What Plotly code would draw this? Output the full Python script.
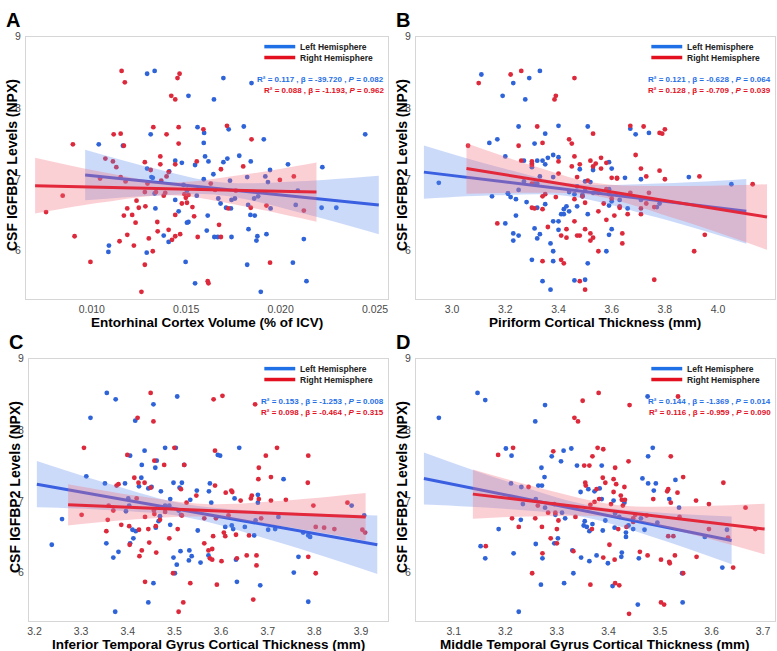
import plotly.graph_objects as go

# ---------------- DATA ----------------
# Panel A: Entorhinal Cortex Volume (% of ICV)
a_left_x = [0.01293, 0.01333, 0.01697, 0.01846, 0.01512, 0.01647, 0.02448, 0.01037, 0.01165, 0.01312,
            0.01560, 0.01595, 0.01593, 0.01725, 0.01805, 0.01911, 0.01600, 0.01618, 0.01697, 0.01718,
            0.01781, 0.01842, 0.01477, 0.01442, 0.01293, 0.01323, 0.01410, 0.01547, 0.01644, 0.01593,
            0.01732, 0.01823, 0.01944, 0.01919, 0.01933, 0.02039, 0.02221, 0.02091, 0.02080, 0.02217,
            0.02295, 0.01947, 0.01828, 0.01840, 0.01863, 0.01881, 0.01860, 0.01758, 0.01740, 0.01670,
            0.01682, 0.01737, 0.01711, 0.01614, 0.01556, 0.01504, 0.01486, 0.01442, 0.01460, 0.01504,
            0.01512, 0.01381, 0.01407, 0.01333, 0.01337, 0.01649, 0.01667, 0.01740, 0.01609, 0.01830,
            0.01877, 0.01872, 0.01925, 0.02123, 0.01091, 0.01088, 0.01291, 0.01497, 0.01823, 0.02065,
            0.01547, 0.02137, 0.01895, 0.01316, 0.01505]
a_left_y = [8.48, 8.52, 8.42, 8.35, 8.17, 8.12, 7.63, 7.49, 7.47, 7.63,
            7.73, 7.65, 7.51, 7.70, 7.74, 7.56, 7.32, 7.25, 7.24, 7.29,
            7.33, 7.25, 7.23, 7.26, 7.15, 7.02, 7.11, 7.20, 7.07, 7.00,
            6.98, 7.03, 7.13, 7.04, 6.96, 7.21, 7.17, 6.84, 6.64, 6.60,
            6.60, 6.59, 6.64, 6.50, 6.49, 6.76, 6.73, 6.73, 6.71, 6.73,
            6.66, 6.59, 6.60, 6.49, 6.77, 6.84, 6.92, 6.71, 6.55, 6.39,
            6.40, 6.21, 6.12, 6.80, 6.59, 6.19, 6.19, 6.19, 6.28, 6.30,
            6.20, 6.14, 6.23, 6.16, 6.07, 5.98, 5.97, 5.84, 5.80, 5.83,
            5.54, 5.57, 5.42, 7.03, 6.85]
a_right_x = [0.00758, 0.00846, 0.00900, 0.00909, 0.00993, 0.01044, 0.01072, 0.01112, 0.01116, 0.01153,
             0.01158, 0.01175, 0.01130, 0.01170, 0.01153, 0.01179, 0.01188, 0.01170, 0.01147, 0.01188,
             0.01214, 0.01232, 0.01223, 0.01237, 0.01249, 0.01281, 0.01284, 0.01281, 0.01312, 0.01295,
             0.01302, 0.01323, 0.01281, 0.01263, 0.01326, 0.01340, 0.01347, 0.01349, 0.01363, 0.01363,
             0.01368, 0.01381, 0.01389, 0.01396, 0.01396, 0.01407, 0.01407, 0.01425, 0.01442, 0.01421,
             0.01442, 0.01454, 0.01465, 0.01460, 0.01460, 0.01442, 0.01442, 0.01468, 0.01477, 0.01491,
             0.01498, 0.01504, 0.01512, 0.01533, 0.01542, 0.01556, 0.01561, 0.01591, 0.01614, 0.01618,
             0.01630, 0.01653, 0.01674, 0.01684, 0.01684, 0.01716, 0.01723, 0.01802, 0.01846, 0.01842,
             0.01925, 0.01944, 0.01996, 0.02070, 0.02123, 0.01763]
a_right_y = [6.54, 6.77, 7.49, 6.20, 5.84, 7.01, 7.29, 7.25, 7.63, 7.64,
             8.52, 8.36, 7.17, 7.47, 7.03, 6.97, 6.59, 6.49, 6.13, 6.22,
             6.50, 6.39, 6.07, 6.70, 6.60, 6.82, 6.62, 7.24, 7.13, 6.94,
             6.17, 5.99, 5.80, 5.42, 7.73, 6.82, 6.40, 6.27, 7.32, 7.21,
             6.98, 6.77, 6.81, 7.63, 7.04, 7.10, 6.29, 6.15, 7.21, 8.17,
             8.12, 8.42, 8.48, 7.50, 7.73, 6.50, 6.20, 6.23, 6.66, 6.79,
             6.74, 6.67, 6.78, 6.61, 6.48, 7.25, 6.19, 7.70, 5.57, 5.54,
             6.94, 6.85, 6.36, 6.19, 7.14, 7.75, 6.59, 7.18, 7.56, 6.60,
             6.63, 5.83, 6.99, 7.04, 6.56, 6.84]

# Panel B: Piriform Cortical Thickness (mm)
b_left_x = [2.95, 3.11, 3.23, 3.29, 3.33, 3.19, 3.275, 3.14, 3.17, 3.25,
            3.20, 3.21, 3.15, 3.21, 3.22, 3.24, 3.25, 3.27, 3.28, 3.24,
            3.23, 3.23, 3.25, 3.20, 3.27, 3.30, 3.30, 3.31, 3.32, 3.33,
            3.31, 3.32, 3.34, 3.35, 3.35, 3.36, 3.38, 3.38, 3.40, 3.40,
            3.32, 3.33, 3.32, 3.30, 3.31, 3.35, 3.37, 3.38, 3.38, 3.38,
            3.40, 3.40, 3.41, 3.42, 3.42, 3.43, 3.44, 3.44, 3.46, 3.47,
            3.47, 3.48, 3.49, 3.49, 3.50, 3.51, 3.51, 3.50, 3.52, 3.53,
            3.46, 3.50, 3.34, 3.37, 3.51, 3.53, 3.54, 3.58, 3.59, 3.59,
            3.59, 3.60, 3.60, 3.59, 3.60, 3.63, 3.65, 3.66, 3.67, 3.69,
            3.71, 3.71, 3.74, 3.77, 3.78, 3.89, 4.05]
b_left_y = [6.95, 8.47, 8.35, 8.42, 8.52, 8.17, 8.12, 7.51, 7.56, 7.74,
            7.32, 6.80, 6.76, 6.80, 6.75, 6.72, 6.85, 6.97, 6.68, 6.49,
            6.24, 6.14, 6.21, 6.38, 7.26, 7.22, 7.17, 7.50, 7.26, 7.04,
            6.94, 6.94, 7.26, 7.21, 7.64, 7.30, 7.03, 7.34, 7.75, 7.31,
            6.60, 6.23, 6.17, 5.87, 6.31, 6.65, 6.10, 5.99, 6.41, 5.85,
            6.41, 6.29, 6.51, 6.51, 6.58, 6.62, 6.55, 6.82, 6.79, 6.90,
            6.62, 7.14, 6.78, 6.76, 6.84, 7.74, 5.82, 6.97, 6.96, 7.13,
            5.58, 5.59, 5.57, 5.45, 6.51, 6.81, 6.82, 5.99, 6.86, 6.63,
            6.22, 6.30, 7.15, 7.24, 6.69, 6.71, 7.02, 6.59, 7.71, 7.63,
            7.00, 6.71, 7.65, 6.61, 6.66, 7.03, 6.93]
b_right_x = [3.06, 3.10, 3.22, 3.26, 3.46, 3.385, 3.39, 3.17, 3.25, 3.26,
             3.32, 3.34, 3.30, 3.30, 3.30, 3.30, 3.31, 3.34, 3.34, 3.35,
             3.34, 3.36, 3.40, 3.39, 3.40, 3.41, 3.41, 3.42, 3.43, 3.43,
             3.44, 3.45, 3.45, 3.46, 3.46, 3.46, 3.47, 3.47, 3.48, 3.48,
             3.48, 3.49, 3.50, 3.50, 3.50, 3.51, 3.52, 3.52, 3.52, 3.53,
             3.53, 3.54, 3.53, 3.55, 3.55, 3.55, 3.56, 3.56, 3.57, 3.58,
             3.58, 3.58, 3.59, 3.60, 3.60, 3.61, 3.62, 3.62, 3.63, 3.63,
             3.64, 3.64, 3.66, 3.67, 3.67, 3.69, 3.71, 3.71, 3.71, 3.72,
             3.73, 3.73, 3.74, 3.76, 3.78, 3.78, 3.79, 3.80, 3.80, 3.76,
             3.93, 3.91, 3.95, 4.13]
b_right_y = [7.47, 8.35, 8.47, 8.52, 8.42, 8.12, 8.17, 6.38, 7.47, 7.26,
             7.74, 7.51, 7.25, 7.20, 6.94, 6.60, 6.59, 6.58, 6.76, 6.79,
             5.85, 6.33, 7.25, 6.75, 7.08, 6.21, 5.87, 5.82, 6.30, 6.18,
             7.56, 7.50, 7.18, 7.32, 6.72, 6.41, 6.21, 7.03, 7.21, 6.21,
             5.57, 6.76, 6.30, 6.67, 5.45, 6.98, 7.26, 6.24, 6.14, 7.64,
             7.18, 7.22, 6.18, 6.55, 5.99, 6.81, 7.30, 7.15, 6.66, 7.23,
             6.43, 6.86, 6.79, 6.73, 7.02, 6.49, 7.01, 7.02, 6.62, 6.60,
             6.24, 6.10, 6.51, 6.81, 7.75, 7.34, 6.59, 7.15, 6.51, 7.74,
             7.04, 6.66, 6.81, 6.61, 7.12, 7.65, 7.64, 7.70, 7.00, 5.59,
             7.04, 5.99, 6.22, 6.93]

# Panel C: Inferior Temporal Gyrus Cortical Thickness (mm)
c_left_x = [3.237, 3.259, 3.311, 3.320, 3.355, 3.374, 3.351, 3.354, 3.369, 3.373,
            3.380, 3.394, 3.396, 3.401, 3.403, 3.405, 3.405, 3.410, 3.412, 3.416,
            3.417, 3.424, 3.429, 3.430, 3.436, 3.444, 3.444, 3.451, 3.455, 3.455,
            3.459, 3.460, 3.462, 3.466, 3.469, 3.471, 3.480, 3.480, 3.489, 3.491,
            3.491, 3.498, 3.498, 3.501, 3.503, 3.505, 3.506, 3.509, 3.511, 3.513,
            3.514, 3.516, 3.521, 3.531, 3.532, 3.534, 3.537, 3.548, 3.550, 3.556,
            3.573, 3.574, 3.576, 3.579, 3.598, 3.593, 3.609, 3.623, 3.626, 3.629,
            3.632, 3.634, 3.639, 3.651, 3.671, 3.674, 3.679, 3.679, 3.684, 3.701,
            3.716, 3.723, 3.734, 3.756, 3.766, 3.776, 3.787, 3.791, 3.787, 3.880,
            3.907]
c_left_y = [6.39, 6.75, 7.35, 8.17, 8.52, 8.43, 7.25, 6.41, 6.21, 5.45,
            6.29, 7.25, 6.86, 7.04, 6.94, 7.64, 6.41, 6.60, 6.48, 8.13,
            6.58, 7.21, 7.33, 7.51, 7.71, 5.58, 7.18, 7.20, 8.36, 5.85,
            7.47, 6.63, 7.57, 6.72, 6.79, 7.14, 7.75, 6.94, 6.94, 6.67,
            7.03, 7.26, 6.21, 5.99, 7.75, 6.11, 8.47, 6.87, 7.19, 6.30,
            6.81, 7.26, 7.51, 6.17, 6.31, 7.02, 6.23, 7.15, 6.59, 6.14,
            6.24, 7.14, 7.25, 6.98, 7.64, 7.65, 6.64, 6.66, 6.61, 7.04,
            6.18, 5.87, 7.75, 6.64, 6.52, 6.73, 6.98, 7.09, 5.82, 6.60,
            6.61, 6.78, 7.31, 6.00, 6.22, 6.56, 6.52, 6.50, 5.59, 6.94,
            6.80]
c_right_x = [3.301, 3.306, 3.354, 3.357, 3.359, 3.376, 3.380, 3.369, 3.386, 3.399,
             3.403, 3.404, 3.414, 3.419, 3.421, 3.423, 3.424, 3.425, 3.430, 3.436,
             3.437, 3.437, 3.444, 3.446, 3.449, 3.449, 3.455, 3.457, 3.456, 3.457,
             3.460, 3.461, 3.469, 3.478, 3.480, 3.489, 3.497, 3.500, 3.507, 3.509,
             3.514, 3.516, 3.519, 3.521, 3.526, 3.534, 3.547, 3.564, 3.564, 3.573,
             3.576, 3.581, 3.581, 3.583, 3.584, 3.587, 3.587, 3.589, 3.591, 3.603,
             3.601, 3.606, 3.609, 3.610, 3.616, 3.622, 3.624, 3.632, 3.634, 3.642,
             3.655, 3.660, 3.664, 3.666, 3.669, 3.673, 3.676, 3.676, 3.680, 3.681,
             3.681, 3.686, 3.696, 3.707, 3.707, 3.720, 3.739, 3.786, 3.787, 3.787,
             3.798, 3.803, 3.803, 3.821, 3.843, 3.871, 3.903, 3.909]
c_right_y = [6.81, 7.75, 6.58, 6.74, 6.94, 7.22, 7.24, 6.87, 6.67, 7.65,
             6.65, 6.39, 7.33, 7.04, 8.17, 7.26, 6.60, 6.23, 6.31, 7.26,
             6.78, 5.87, 6.61, 6.42, 8.52, 7.19, 8.12, 7.57, 6.87, 6.82,
             6.65, 6.28, 6.74, 7.51, 6.85, 6.48, 5.99, 7.75, 6.61, 5.45,
             7.17, 6.80, 5.58, 7.51, 6.98, 5.85, 7.08, 6.41, 6.76, 6.31,
             6.20, 6.33, 6.18, 6.51, 8.43, 7.71, 7.22, 6.76, 5.83, 8.48,
             6.16, 6.56, 6.51, 7.12, 6.80, 7.15, 7.13, 6.53, 6.20, 7.01,
             6.24, 6.52, 7.04, 7.08, 5.62, 8.36, 6.24, 6.10, 7.31, 7.47,
             7.03, 6.76, 7.64, 7.34, 7.01, 7.75, 7.02, 7.26, 7.64, 6.22,
             6.94, 6.64, 5.99, 6.63, 6.61, 6.98, 6.60, 6.56]

# Panel D: Middle Temporal Gyrus Cortical Thickness (mm)
d_left_x = [3.071, 3.146, 3.161, 3.152, 3.161, 3.187, 3.201, 3.212, 3.211, 3.216,
            3.226, 3.231, 3.230, 3.234, 3.258, 3.259, 3.259, 3.264, 3.270, 3.271,
            3.269, 3.272, 3.276, 3.277, 3.277, 3.290, 3.295, 3.297, 3.302, 3.310,
            3.308, 3.313, 3.314, 3.316, 3.328, 3.330, 3.332, 3.339, 3.346, 3.347,
            3.352, 3.354, 3.358, 3.361, 3.363, 3.363, 3.369, 3.373, 3.377, 3.383,
            3.387, 3.387, 3.389, 3.394, 3.399, 3.408, 3.410, 3.412, 3.413, 3.421,
            3.425, 3.426, 3.431, 3.434, 3.434, 3.439, 3.448, 3.457, 3.459, 3.463,
            3.466, 3.470, 3.476, 3.477, 3.477, 3.486, 3.488, 3.492, 3.495, 3.518,
            3.530, 3.537, 3.543, 3.544, 3.587, 3.621, 3.630]
d_left_y = [8.17, 8.52, 8.42, 6.37, 6.20, 6.61, 7.74, 7.64, 7.25, 6.27,
            5.45, 7.20, 6.74, 6.96, 8.12, 7.03, 6.40, 7.22, 7.47, 7.22,
            5.83, 6.20, 7.34, 8.35, 6.91, 7.63, 6.41, 6.81, 6.48, 6.84,
            7.56, 7.71, 5.85, 6.76, 7.74, 6.31, 5.99, 7.50, 7.13, 6.21,
            6.66, 6.72, 6.64, 7.17, 6.16, 6.58, 6.68, 7.14, 6.24, 7.18,
            7.50, 7.03, 6.59, 6.73, 6.13, 5.81, 7.01, 6.63, 6.83, 6.78,
            6.22, 6.28, 6.98, 6.56, 6.50, 6.66, 6.61, 5.55, 6.20, 6.76,
            7.32, 6.60, 8.47, 7.63, 7.25, 7.75, 7.15, 7.25, 6.70, 7.03,
            7.30, 6.91, 5.99, 5.58, 6.50, 6.07, 6.60]
d_right_x = [3.186, 3.215, 3.162, 3.213, 3.226, 3.245, 3.252, 3.258, 3.263, 3.271,
             3.272, 3.283, 3.288, 3.293, 3.295, 3.297, 3.300, 3.300, 3.303, 3.332,
             3.334, 3.336, 3.341, 3.350, 3.353, 3.355, 3.356, 3.363, 3.365, 3.365,
             3.368, 3.369, 3.373, 3.377, 3.379, 3.381, 3.382, 3.390, 3.389, 3.390,
             3.394, 3.402, 3.405, 3.410, 3.410, 3.412, 3.413, 3.413, 3.415, 3.419,
             3.421, 3.424, 3.426, 3.428, 3.431, 3.432, 3.435, 3.439, 3.441, 3.440,
             3.448, 3.448, 3.452, 3.461, 3.474, 3.476, 3.487, 3.502, 3.502, 3.508,
             3.514, 3.516, 3.516, 3.518, 3.519, 3.521, 3.521, 3.526, 3.529, 3.534,
             3.535, 3.538, 3.545, 3.545, 3.570, 3.571, 3.595, 3.595, 3.623, 3.632,
             3.642, 3.666, 3.685]
d_right_y = [7.65, 7.75, 6.37, 6.76, 6.64, 7.20, 5.99, 6.76, 6.94, 6.64,
             6.27, 6.84, 6.48, 7.70, 6.96, 6.84, 6.61, 6.41, 6.73, 6.30,
             8.17, 6.78, 8.12, 8.41, 7.50, 7.26, 7.22, 7.50, 6.95, 5.83,
             6.61, 7.63, 6.99, 7.17, 7.75, 8.52, 7.03, 7.73, 7.33, 6.21,
             7.26, 6.39, 6.96, 7.31, 7.13, 6.18, 5.85, 7.47, 7.24, 6.61,
             5.82, 7.08, 7.02, 6.94, 7.20, 7.02, 6.64, 7.56, 8.35, 5.42,
             6.76, 6.71, 6.81, 6.29, 6.80, 6.24, 7.03, 6.18, 5.58, 5.55,
             7.14, 7.17, 6.51, 6.15, 6.13, 7.63, 6.98, 6.51, 6.24, 7.12,
             8.47, 6.78, 5.99, 7.34, 7.01, 6.22, 6.96, 6.61, 7.26, 6.49,
             6.07, 6.91, 6.61]

# Regression fits: line ends and 95% CI band edges
a_left_fit_x = [0.00965, 0.0252];  a_left_fit_y = [7.06, 6.64]
a_left_band_x = [0.00965, 0.01323, 0.0168, 0.0210, 0.0252]
a_left_band_lo = [6.705, 6.769, 6.777, 6.535, 6.23]
a_left_band_hi = [7.415, 7.157, 6.957, 6.973, 7.05]
a_right_fit_x = [0.0070, 0.0219];  a_right_fit_y = [6.91, 6.82]
a_right_band_x = [0.0070, 0.01061, 0.01421, 0.01806, 0.0219]
a_right_band_lo = [6.52, 6.678, 6.776, 6.621, 6.405]
a_right_band_hi = [7.30, 7.098, 6.956, 7.065, 7.235]

b_left_fit_x = [2.894, 4.106];  b_left_fit_y = [7.10, 6.55]
b_left_band_x = [2.894, 3.166, 3.439, 3.772, 4.106]
b_left_band_lo = [6.725, 6.774, 6.763, 6.462, 6.095]
b_left_band_hi = [7.475, 7.180, 6.943, 6.942, 7.005]
b_right_fit_x = [3.054, 4.184];  b_right_fit_y = [7.15, 6.47]
b_right_band_x = [3.054, 3.298, 3.542, 3.863, 4.184]
b_right_band_lo = [6.795, 6.809, 6.766, 6.420, 6.01]
b_right_band_hi = [7.505, 7.197, 6.946, 6.906, 6.93]

c_left_fit_x = [3.205, 3.935];  c_left_fit_y = [7.24, 6.39]
c_left_band_x = [3.205, 3.365, 3.525, 3.730, 3.935]
c_left_band_lo = [6.915, 6.874, 6.777, 6.41, 5.98]
c_left_band_hi = [7.565, 7.234, 6.957, 6.848, 6.80]
c_right_fit_x = [3.272, 3.910];  c_right_fit_y = [6.95, 6.78]
c_right_band_x = [3.272, 3.419, 3.566, 3.738, 3.910]
c_right_band_lo = [6.66, 6.746, 6.782, 6.641, 6.445]
c_right_band_hi = [7.24, 7.076, 6.962, 7.011, 7.115]

d_left_fit_x = [3.042, 3.639];  d_left_fit_y = [7.32, 6.45]
d_left_band_x = [3.042, 3.198, 3.354, 3.4965, 3.639]
d_left_band_lo = [6.955, 6.894, 6.775, 6.473, 6.115]
d_left_band_hi = [7.685, 7.29, 6.955, 6.843, 6.785]
d_right_fit_x = [3.137, 3.703];  d_right_fit_y = [7.10, 6.61]
d_right_band_x = [3.137, 3.276, 3.416, 3.5595, 3.703]
d_right_band_lo = [6.755, 6.791, 6.769, 6.541, 6.255]
d_right_band_hi = [7.445, 7.169, 6.949, 6.929, 6.965]

panel_letters = ["A", "B", "C", "D"]
x_titles = ["Entorhinal Cortex Volume (% of ICV)", "Piriform Cortical Thickness (mm)",
            "Inferior Temporal Gyrus Cortical Thickness (mm)", "Middle Temporal Gyrus Cortical Thickness (mm)"]
y_title = "CSF IGFBP2 Levels (NPX)"
legend_labels = ["Left Hemisphere", "Right Hemisphere"]
stats_left = ["R² = 0.117 , β = -39.720 , <i>P</i> = 0.082",
              "R² = 0.121 , β = -0.628 , <i>P</i> = 0.064",
              "R² = 0.153 , β = -1.253 , <i>P</i> = 0.008",
              "R² = 0.144 , β = -1.369 , <i>P</i> = 0.014"]
stats_right = ["R² = 0.088 , β = -1.193, <i>P</i> = 0.962",
               "R² = 0.128 , β = -0.709 , <i>P</i> = 0.039",
               "R² = 0.098 , β = -0.464 , <i>P</i> = 0.315",
               "R² = 0.116 , β = -0.959 , <i>P</i> = 0.090"]
x_tickvals = [[0.010, 0.015, 0.020, 0.025],
              [3.0, 3.2, 3.4, 3.6, 3.8, 4.0, 4.2],
              [3.2, 3.3, 3.4, 3.5, 3.6, 3.7, 3.8, 3.9],
              [3.1, 3.2, 3.3, 3.4, 3.5, 3.6, 3.7]]
x_tickfmt = [".3f", ".1f", ".1f", ".1f"]
y_tickvals = [6, 7, 8, 9]

# ---------------- STYLE / LAYOUT ----------------
W, H = 777, 651
BLUE_PT = "#2f63d8"
RED_PT = "#dc2a3c"
BLUE_LN = "#3a5fe0"
RED_LN = "#e2283a"
BLUE_FILL = "rgba(95,140,240,0.32)"
RED_FILL = "rgba(242,110,125,0.32)"
LEG_BLUE = "#1f6fe6"
LEG_RED = "#e3101f"
FONT = "Liberation Sans, Arial, sans-serif"

# plot boxes in pixels: (left, right, top, bottom)
boxes = [(24, 387, 31, 296), (415, 775, 31, 296), (27, 387, 356, 621), (415, 775, 356, 621)]
x_ranges = [[0.006514, 0.025687], [2.864, 4.214], [3.188, 3.958], [3.0265, 3.7232]]
y_range = [5.316, 9.0]

panels = [
    (a_left_x, a_left_y, a_right_x, a_right_y, a_left_fit_x, a_left_fit_y, a_left_band_x, a_left_band_lo, a_left_band_hi,
     a_right_fit_x, a_right_fit_y, a_right_band_x, a_right_band_lo, a_right_band_hi),
    (b_left_x, b_left_y, b_right_x, b_right_y, b_left_fit_x, b_left_fit_y, b_left_band_x, b_left_band_lo, b_left_band_hi,
     b_right_fit_x, b_right_fit_y, b_right_band_x, b_right_band_lo, b_right_band_hi),
    (c_left_x, c_left_y, c_right_x, c_right_y, c_left_fit_x, c_left_fit_y, c_left_band_x, c_left_band_lo, c_left_band_hi,
     c_right_fit_x, c_right_fit_y, c_right_band_x, c_right_band_lo, c_right_band_hi),
    (d_left_x, d_left_y, d_right_x, d_right_y, d_left_fit_x, d_left_fit_y, d_left_band_x, d_left_band_lo, d_left_band_hi,
     d_right_fit_x, d_right_fit_y, d_right_band_x, d_right_band_lo, d_right_band_hi),
]

fig = go.Figure()
layout = dict(width=W, height=H, margin=dict(l=0, r=0, t=0, b=0),
              paper_bgcolor="white", plot_bgcolor="white", showlegend=False,
              font=dict(family=FONT, color="#444"))
annotations = []
shapes = []

def px_x(p):
    return p / W

def px_y(p):
    return 1 - p / H

for i, pdata in enumerate(panels):
    (lx, ly, rx, ry, lfx, lfy, lbx, lblo, lbhi, rfx, rfy, rbx, rblo, rbhi) = pdata
    n = "" if i == 0 else str(i + 1)
    xa, ya = "x" + n, "y" + n
    L, R, T, B = boxes[i]
    common = dict(showgrid=False, zeroline=False, showline=True, mirror=True,
                  linecolor="#d6d6d6", linewidth=1, ticks="",
                  tickfont=dict(family=FONT, size=10.5, color="#4a4a4a"))
    layout["xaxis" + n] = dict(domain=[px_x(L), px_x(R)], range=x_ranges[i], anchor=ya,
                               tickvals=x_tickvals[i], tickformat=x_tickfmt[i], ticklabelstandoff=0, **common)
    layout["yaxis" + n] = dict(domain=[px_y(B), px_y(T)], range=y_range, anchor=xa,
                               tickvals=y_tickvals, ticklabelstandoff=2, **common)

    # points
    fig.add_trace(go.Scatter(x=lx, y=ly, mode="markers", xaxis=xa, yaxis=ya,
                             marker=dict(size=4.8, color=BLUE_PT, line=dict(width=0))))
    fig.add_trace(go.Scatter(x=rx, y=ry, mode="markers", xaxis=xa, yaxis=ya,
                             marker=dict(size=4.8, color=RED_PT, line=dict(width=0))))
    # left hemisphere band + line
    fig.add_trace(go.Scatter(x=lbx, y=lblo, mode="lines", xaxis=xa, yaxis=ya,
                             line=dict(width=0, shape="spline", smoothing=1.0), hoverinfo="skip"))
    fig.add_trace(go.Scatter(x=lbx, y=lbhi, mode="lines", xaxis=xa, yaxis=ya, fill="tonexty",
                             fillcolor=BLUE_FILL, line=dict(width=0, shape="spline", smoothing=1.0), hoverinfo="skip"))
    fig.add_trace(go.Scatter(x=lfx, y=lfy, mode="lines", xaxis=xa, yaxis=ya,
                             line=dict(width=3, color=BLUE_LN)))
    # right hemisphere band + line
    fig.add_trace(go.Scatter(x=rbx, y=rblo, mode="lines", xaxis=xa, yaxis=ya,
                             line=dict(width=0, shape="spline", smoothing=1.0), hoverinfo="skip"))
    fig.add_trace(go.Scatter(x=rbx, y=rbhi, mode="lines", xaxis=xa, yaxis=ya, fill="tonexty",
                             fillcolor=RED_FILL, line=dict(width=0, shape="spline", smoothing=1.0), hoverinfo="skip"))
    fig.add_trace(go.Scatter(x=rfx, y=rfy, mode="lines", xaxis=xa, yaxis=ya,
                             line=dict(width=3, color=RED_LN)))

    # panel letter
    annotations.append(dict(xref="paper", yref="paper", x=px_x(L - 22), y=px_y(T - 17),
                            text="<b>%s</b>" % panel_letters[i], showarrow=False,
                            xanchor="left", yanchor="middle",
                            font=dict(family=FONT, size=20, color="black")))
    # x title
    annotations.append(dict(xref="paper", yref="paper", x=px_x((L + R) / 2), y=px_y(B + 23),
                            text="<b>%s</b>" % x_titles[i], showarrow=False,
                            xanchor="center", yanchor="middle",
                            font=dict(family=FONT, size=13.5, color="black")))
    # y title
    annotations.append(dict(xref="paper", yref="paper", x=px_x(L - 14), y=px_y((T + B) / 2 - 3),
                            text="<b>%s</b>" % y_title, showarrow=False, textangle=-90,
                            xanchor="center", yanchor="middle",
                            font=dict(family=FONT, size=14, color="black")))
    # legend swatches + labels
    lx0 = R - 124
    for j, (col, lab) in enumerate(zip([LEG_BLUE, LEG_RED], legend_labels)):
        yy = T + 10 + j * 11
        shapes.append(dict(type="line", xref="paper", yref="paper",
                           x0=px_x(lx0), x1=px_x(lx0 + 31), y0=px_y(yy), y1=px_y(yy),
                           line=dict(color=col, width=3.5)))
        annotations.append(dict(xref="paper", yref="paper", x=px_x(lx0 + 34), y=px_y(yy),
                                text="<b>%s</b>" % lab, showarrow=False,
                                xanchor="left", yanchor="middle",
                                font=dict(family=FONT, size=8.5, color="#222")))
    # stats text
    for j, (col, txt) in enumerate(zip([LEG_BLUE, LEG_RED], [stats_left[i], stats_right[i]])):
        yy = T + 43 + j * 11.5
        annotations.append(dict(xref="paper", yref="paper", x=px_x(R - 2), y=px_y(yy),
                                text="<b>%s</b>" % txt, showarrow=False,
                                xanchor="right", yanchor="middle",
                                font=dict(family=FONT, size=8, color=col)))

layout["annotations"] = annotations
layout["shapes"] = shapes
fig.update_layout(**layout)
fig.write_html("out.html", config={"displayModeBar": False},
               post_script="document.body.style.margin='0';document.body.style.padding='0';"
                           "document.documentElement.style.margin='0';")
